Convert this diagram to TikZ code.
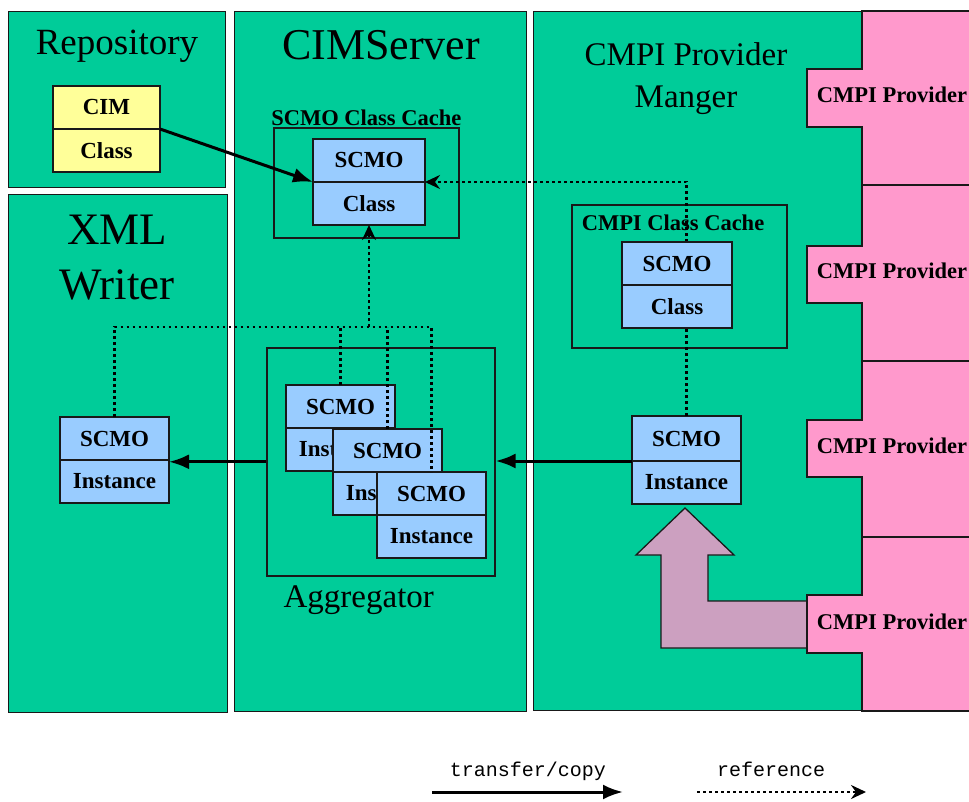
\documentclass[tikz,border=0pt]{standalone}
\usepackage{fontspec}
\setmainfont{Liberation Serif}
\newfontfamily\legendfont{Liberation Mono}
\usetikzlibrary{positioning,arrows.meta}
\definecolor{panelgreen}{RGB}{0,204,153}
\definecolor{provpink}{RGB}{255,153,204}
\definecolor{scmoblue}{RGB}{153,204,255}
\definecolor{cimyellow}{RGB}{255,255,153}
\definecolor{pushmauve}{RGB}{204,160,192}
\definecolor{edge}{RGB}{25,25,25}

\begin{document}
\begin{tikzpicture}[x=1pt,y=-1pt]
  	\tikzstyle{panel}=[rectangle, draw=edge, line width=1.4pt, fill=panelgreen, anchor=north west, inner sep=0pt]
  	\tikzstyle{provider}=[draw=edge, line width=1.4pt, fill=provpink]
  	\tikzstyle{push}=[draw=edge, line width=1.3pt, fill=pushmauve]
  	\tikzstyle{half}=[rectangle, draw=edge, line width=1.4pt, fill=scmoblue, minimum width=109pt, minimum height=43pt, inner sep=0pt, outer sep=0pt, font=\fontsize{23}{23}\selectfont\bfseries]
  	\tikzstyle{cache}=[rectangle, draw=edge, line width=1.6pt, anchor=north west, inner sep=0pt]
  	\tikzstyle{title}=[inner sep=0pt]
  	\tikzstyle{boldlbl}=[anchor=base, inner sep=0pt, font=\fontsize{22.5}{22.5}\selectfont\bfseries]
  	\tikzstyle{connect}=[-{Latex[length=20pt,width=15pt]}, line width=3pt]
  	\tikzstyle{refline}=[line width=2.6pt, dash pattern=on 2.6pt off 3.4pt]
  	\tikzstyle{ref}=[refline, -{Stealth[length=15pt,width=14pt,inset=5pt]}]
  	\path[use as bounding box, fill=white] (0,0) rectangle (969,802);
  	% panels
  	\node[panel, minimum width=217pt, minimum height=176pt] (repo) at (8,11) {};
  	\node[panel, minimum width=219pt, minimum height=518pt] (xmlw) at (8,194) {};
  	\node[panel, minimum width=292pt, minimum height=700pt] (cims) at (234,11) {};
  	\node[panel, minimum width=329pt, minimum height=699pt] (cmpim) at (533,11) {};
  	\draw[push] (685,508) -- (734,555) -- (708,555) -- (708,601) -- (808,601) -- (808,648) -- (661,648) -- (661,555) -- (636,555) -- cycle;
  	% providers
  	\draw[provider] (862,11) -- (975,11) -- (975,185) -- (862,185) -- (862,127) -- (807,127) -- (807,69) -- (862,69) -- cycle;
  	\draw[provider] (862,185) -- (975,185) -- (975,361) -- (862,361) -- (862,303) -- (807,303) -- (807,246) -- (862,246) -- cycle;
  	\draw[provider] (862,361) -- (975,361) -- (975,537) -- (862,537) -- (862,477) -- (807,477) -- (807,420) -- (862,420) -- cycle;
  	\draw[provider] (862,537) -- (975,537) -- (975,711) -- (862,711) -- (862,653) -- (807,653) -- (807,595) -- (862,595) -- cycle;
  	\node[boldlbl] (prov1) at (892,103) {CMPI Provider};
  	\node[boldlbl] (prov2) at (892,279) {CMPI Provider};
  	\node[boldlbl] (prov3) at (892,453) {CMPI Provider};
  	\node[boldlbl] (prov4) at (892,629) {CMPI Provider};
  	% titles
  	\node[title, anchor=base, font=\fontsize{37}{37}\selectfont] (repolbl) at (117,55) {Repository};
  	\node[title, anchor=base, font=\fontsize{44}{44}\selectfont] (cimslbl) at (381,60) {CIMServer};
  	\node[title, anchor=north, align=center, font=\fontsize{45}{55}\selectfont] (xmllbl) at (117,215) {XML\\Writer};
  	\node[title, anchor=north, align=center, font=\fontsize{33}{42}\selectfont] (cmpimlbl) at (686,42) {CMPI Provider\\Manger};
  	% repository and class cache
  	\node[half, fill=cimyellow, minimum width=107pt, anchor=north west] (cimtop) at (53,86) {CIM};
  	\node[half, fill=cimyellow, minimum width=107pt, below=0pt of cimtop] (cimbot) {Class};
  	\node[cache, minimum width=185pt, minimum height=110pt, label={[font=\fontsize{22.5}{22.5}\selectfont\bfseries, inner sep=1.5pt]above:SCMO Class Cache}] (scache) at (273,127) {};
  	\node[half, anchor=north west, minimum width=112pt] (stop) at (313,139) {SCMO};
  	\node[half, minimum width=112pt, below=0pt of stop] (sbot) {Class};
  	% aggregator
  	\node[cache, minimum width=228pt, minimum height=228pt, label={[font=\fontsize{33}{33}\selectfont, inner sep=0pt, yshift=-9pt, xshift=-22pt]below:Aggregator}] (agg) at (266,347) {};
  	\node[half, anchor=north west] (i1top) at (286,385) {SCMO};
  	\node[half, below=0pt of i1top] (i1bot) {Instance};
  	\node[half, anchor=north west] (i2top) at (333,429) {SCMO};
  	\node[half, below=0pt of i2top] (i2bot) {Instance};
  	\node[half, anchor=north west] (i3top) at (377,472) {SCMO};
  	\node[half, below=0pt of i3top] (i3bot) {Instance};
  	\node[half, anchor=north west] (xtop) at (60,417) {SCMO};
  	\node[half, below=0pt of xtop] (xbot) {Instance};
  	% provider manager
  	\node[half, anchor=north west, minimum height=45pt] (ptop) at (632,416) {SCMO};
  	\node[half, below=0pt of ptop] (pbot) {Instance};
  	\node[cache, minimum width=215pt, minimum height=143pt] (pcache) at (571,204) {};
  	\node[boldlbl] (pcachelbl) at (673,231) {CMPI Class Cache};
  	\draw[ref] (ptop.north) |- (stop.south east);
  	\node[half, anchor=north west, minimum width=110pt] (pctop) at (622,242) {SCMO};
  	\node[half, minimum width=110pt, below=0pt of pctop] (pcbot) {Class};
  	
  	\coordinate (bus) at (369,327);
  	\draw[refline] (xtop.north) |- (i3top.north |- bus) -- (i3top.north);
  	\draw[refline] (i1top.north) -- (i1top.north |- bus);
  	\draw[refline] (i2top.north) -- (i2top.north |- bus);
  	\draw[ref] (bus) -- (sbot.south);
  	
  	\draw[connect] (cimbot.north east) -- (sbot.north west);
  	\draw[connect] (agg.west) -- (agg.west -| xbot.east);
  	\draw[connect] (pbot.north west) -- (pbot.north west -| agg.east);
  	% legend
  	\coordinate (tcstart) at (432,792);
  	\coordinate (tcend) at (623,792);
  	\coordinate (rfstart) at (697,792);
  	\coordinate (rfend) at (866,792);
  	\draw[connect] (tcstart) -- (tcend);
  	\draw[ref] (rfstart) -- (rfend);
  	\node[anchor=base, inner sep=0pt, font=\legendfont\fontsize{20}{20}\selectfont] (tclbl) at (528,776) {transfer/copy};
  	\node[anchor=base, inner sep=0pt, font=\legendfont\fontsize{20}{20}\selectfont] (rflbl) at (771,776) {reference};
\end{tikzpicture}
\end{document}
